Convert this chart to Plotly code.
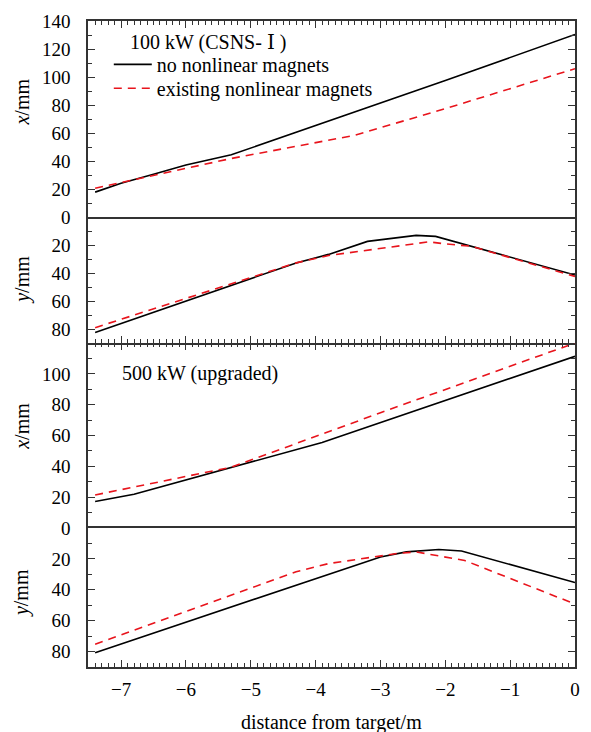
import plotly.graph_objects as go

FONT = "Liberation Serif"
X_RANGE = [-7.51, 0]

# ---- Panel 1: 100 kW, horizontal x/mm ----
p1_none_x = [-7.4, -7.0, -6.5, -6.0, -5.3, -4.0, -2.0, 0.0]
p1_none_y = [18.0, 24.4, 30.8, 37.3, 44.6, 65.4, 97.6, 130.4]
p1_exist_x = [-7.4, -5.3, -3.4, -2.0, 0.0]
p1_exist_y = [20.8, 42.0, 58.5, 77.5, 106.0]

# ---- Panel 2: 100 kW, vertical y/mm ----
p2_none_x = [-7.4, -4.3, -3.8, -3.2, -2.45, -2.15, 0.0]
p2_none_y = [82.5, 32.6, 26.5, 17.2, 12.9, 13.6, 41.3]
p2_exist_x = [-7.4, -4.3, -3.8, -2.75, -2.25, -2.0, -1.6, 0.0]
p2_exist_y = [79.0, 32.6, 27.3, 20.7, 17.5, 19.0, 20.7, 42.3]

# ---- Panel 3: 500 kW, horizontal x/mm ----
p3_none_x = [-7.4, -6.8, -3.9, 0.0]
p3_none_y = [17.2, 22.0, 55.5, 111.4]
p3_exist_x = [-7.4, -5.3, -3.0, 0.0]
p3_exist_y = [21.5, 39.5, 74.8, 120.0]

# ---- Panel 4: 500 kW, vertical y/mm ----
p4_none_x = [-7.4, -3.0, -2.6, -2.1, -1.75, 0.0]
p4_none_y = [80.7, 18.7, 15.4, 13.9, 14.8, 35.3]
p4_exist_x = [-7.4, -4.3, -3.8, -2.75, -2.45, -2.1, -1.7, 0.0]
p4_exist_y = [75.3, 28.3, 23.0, 16.5, 15.4, 18.2, 21.0, 49.2]

series_names = ["no nonlinear magnets", "existing nonlinear magnets"]
x_ticks = [-7, -6, -5, -4, -3, -2, -1, 0]
p1_ticks = [0, 20, 40, 60, 80, 100, 120, 140]
p2_ticks = [20, 40, 60, 80]
p3_ticks = [0, 20, 40, 60, 80, 100]
p4_ticks = [20, 40, 60, 80]

BLACK = "#000000"
RED = "#e8141c"
AXC = "#333333"

fig = go.Figure()

panels = [
    (p1_none_x, p1_none_y, p1_exist_x, p1_exist_y, "x", "y", True),
    (p2_none_x, p2_none_y, p2_exist_x, p2_exist_y, "x2", "y2", False),
    (p3_none_x, p3_none_y, p3_exist_x, p3_exist_y, "x3", "y3", False),
    (p4_none_x, p4_none_y, p4_exist_x, p4_exist_y, "x4", "y4", False),
]
for nx, ny, ex, ey, xa, ya, show in panels:
    fig.add_trace(go.Scatter(x=nx, y=ny, xaxis=xa, yaxis=ya, mode="lines",
                             name=series_names[0], showlegend=show, legend="legend",
                             line=dict(color=BLACK, width=1.6)))
    fig.add_trace(go.Scatter(x=ex, y=ey, xaxis=xa, yaxis=ya, mode="lines",
                             name=series_names[1], showlegend=show, legend="legend2",
                             line=dict(color=RED, width=1.6, dash="8px,6px")))

xcommon = dict(range=X_RANGE, showline=True, linecolor=AXC, linewidth=1.5,
               ticks="inside", ticklen=7, tickwidth=1.2, tickcolor=AXC,
               tickmode="array", tickvals=x_ticks,
               minor=dict(tickmode="linear", tick0=0, dtick=0.1, ticks="inside",
                          ticklen=4, tickwidth=1, tickcolor=AXC, showgrid=False),
               showgrid=False, zeroline=False,
               tickfont=dict(family=FONT, size=19, color="black"))
ycommon = dict(showline=True, linecolor=AXC, linewidth=1.5,
               ticks="inside", ticklen=7, tickwidth=1.2, tickcolor=AXC,
               minor=dict(tickmode="linear", tick0=0, dtick=10, ticks="inside",
                          ticklen=4, tickwidth=1, tickcolor=AXC, showgrid=False),
               showgrid=False, zeroline=False, mirror="ticks",
               tickmode="array", ticklabelstandoff=12,
               tickfont=dict(family=FONT, size=19, color="black"))

d4 = [0.0, 0.215]
d3 = [0.215, 0.5015]
d2 = [0.5015, 0.696]
d1 = [0.696, 1.0]

leg = dict(xanchor="left", yanchor="top", bgcolor="rgba(0,0,0,0)", borderwidth=0,
           font=dict(family=FONT, size=20, color="black"), itemwidth=38)

fig.update_layout(
    width=591, height=732,
    margin=dict(l=88, r=11, t=19, b=65),
    paper_bgcolor="white", plot_bgcolor="white",
    font=dict(family=FONT, size=20, color="black"),
    xaxis=dict(xcommon, anchor="y", side="top", mirror=True, showticklabels=False),
    xaxis2=dict(xcommon, anchor="y2", matches="x", side="bottom", mirror=False,
                showticklabels=False),
    xaxis3=dict(xcommon, anchor="y3", matches="x", side="top", showline=False,
                showticklabels=False),
    xaxis4=dict(xcommon, anchor="y4", matches="x", side="bottom", mirror=True,
                showticklabels=True, ticklabelstandoff=4),
    yaxis=dict(ycommon, domain=d1, anchor="x", range=[0, 140], tickvals=p1_ticks),
    yaxis2=dict(ycommon, domain=d2, anchor="x2", range=[90, 0], tickvals=p2_ticks),
    yaxis3=dict(ycommon, domain=d3, anchor="x3", range=[0, 120], tickvals=p3_ticks),
    yaxis4=dict(ycommon, domain=d4, anchor="x4", range=[90, 0], tickvals=p4_ticks),
    legend=dict(leg, x=0.0427, y=0.963),
    legend2=dict(leg, x=0.0427, y=0.926),
    showlegend=True,
)

ann = dict(xref="paper", yref="paper", showarrow=False,
           font=dict(family=FONT, size=20, color="black"))
fig.add_annotation(ann,
                   text='100 kW (CSNS- <span style="font-family:DejaVu Serif">Ⅰ</span> )',
                   x=0.0813, y=0.967, xanchor="left", yanchor="middle")
fig.add_annotation(ann, text="500 kW (upgraded)", x=0.065, y=0.4537,
                   xanchor="left", yanchor="middle")
fig.add_annotation(ann, text="distance from target/m", x=0.5, y=-0.0864,
                   xanchor="center", yanchor="middle")
for txt, yc in [("<i>x</i>/mm", 0.875), ("<i>y</i>/mm", 0.599),
                ("<i>x</i>/mm", 0.373), ("<i>y</i>/mm", 0.114)]:
    fig.add_annotation(ann, text=txt, x=-0.136, y=yc, xanchor="center",
                       yanchor="middle", textangle=-90)

fig.write_html("out.html")
